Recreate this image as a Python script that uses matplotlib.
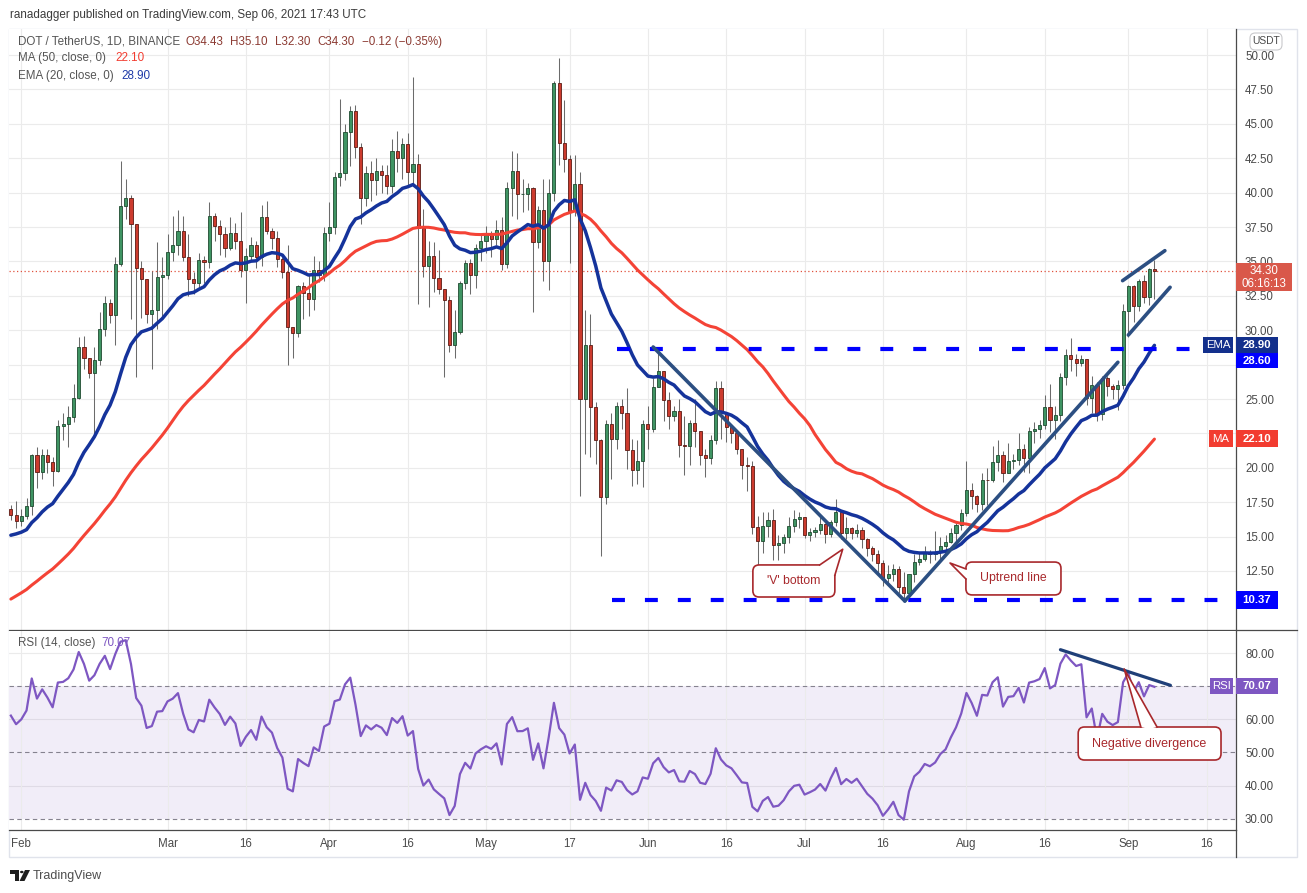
import numpy as np
import pandas as pd
import matplotlib
matplotlib.use("Agg")
import matplotlib.pyplot as plt
from matplotlib.patches import Rectangle, FancyBboxPatch, Polygon

plt.rcParams["font.family"] = ["Liberation Sans", "DejaVu Sans"]

W, H = 1307, 893

# daily closes Dec 11 2020 .. Jan 29 2021 (only feed the MA / EMA / RSI)
warmup_close = [
    4.62, 4.85, 5.10, 5.05, 5.00, 5.25, 5.55, 5.60, 5.70, 5.55,
    5.10, 5.00, 4.55, 4.90, 5.10, 5.45, 5.90, 6.55, 7.20, 8.10,
    9.20, 8.95, 9.25, 10.40, 9.70, 10.30, 10.50, 10.10, 10.45, 10.90,
    10.20, 9.30, 9.60, 10.90, 12.60, 14.80, 16.20, 17.40, 17.90, 17.20,
    17.60, 15.10, 16.30, 16.50, 17.60, 16.80, 16.90, 15.00, 16.20, 17.00,
]

# visible candles, Jan 30 .. Sep 6 2021 (open = previous close)
close = [
    16.6, 16.1, 16.5, 17.25, 20.9, 19.7, 20.9, 20.4, 19.8, 23.05,
    23.15, 23.7, 25.1, 28.75, 28.0, 26.9, 27.85, 30.1, 32.0, 31.1,
    34.8, 39.0, 39.6, 37.7, 34.5, 33.7, 31.2, 31.5, 33.9, 34.0,
    35.7, 36.2, 37.2, 35.3, 33.7, 33.4, 35.1, 34.95, 38.3, 37.6,
    37.0, 36.0, 37.1, 36.5, 34.35, 35.4, 36.2, 35.3, 38.2, 37.2,
    36.7, 35.2, 34.2, 30.2, 29.8, 33.2, 32.7, 32.3, 34.4, 34.0,
    37.1, 37.5, 41.1, 41.4, 44.4, 45.9, 43.3, 39.6, 41.4, 40.9,
    41.6, 41.3, 40.5, 43.0, 42.5, 43.5, 41.5, 42.1, 37.4, 34.7,
    35.4, 33.76, 32.96, 32.2, 28.96, 29.86, 33.4, 34.85, 34.0, 35.95,
    36.5, 36.9, 36.6, 37.25, 34.8, 40.36, 41.55, 39.88, 39.9, 40.3,
    36.43, 38.7, 35.0, 39.95, 47.96, 43.64, 42.43, 38.67, 40.6, 25.03,
    28.96, 24.4, 22.04, 17.86, 23.2, 22.1, 24.5, 23.97, 21.3, 19.85,
    20.46, 23.18, 22.84, 25.9, 27.0, 24.95, 23.74, 24.15, 21.67, 21.6,
    23.23, 22.64, 20.95, 20.7, 22.04, 25.8, 23.98, 23.0, 22.52, 21.4,
    20.2, 20.1, 15.68, 14.7, 15.8, 16.2, 14.4, 14.5, 15.0, 15.8,
    16.3, 16.4, 15.12, 15.3, 15.5, 15.9, 15.2, 16.05, 16.8, 15.24,
    15.6, 15.24, 15.5, 14.83, 14.15, 13.7, 13.06, 11.97, 12.28, 12.65,
    11.36, 10.87, 12.28, 13.13, 13.4, 13.85, 13.7, 13.9, 14.35, 14.6,
    15.25, 15.85, 16.75, 18.4, 17.96, 17.38, 19.13, 19.1, 20.4, 20.94,
    19.6, 20.5, 20.57, 21.36, 20.7, 22.7, 22.85, 23.1, 24.4, 23.5,
    23.85, 26.6, 28.2, 27.9, 27.65, 27.9, 25.1, 26.0, 23.9, 26.55,
    25.95, 25.7, 26.0, 31.4, 33.23, 31.77, 33.55, 32.4, 34.44, 34.30,
]
high = [
    17.3, 17.6, 17.0, 17.8, 21.0, 21.5, 21.4, 21.4, 20.8, 23.5,
    24.0, 24.5, 26.1, 29.5, 29.6, 28.0, 28.8, 31.3, 32.5, 32.3,
    35.3, 42.3, 41.0, 39.8, 37.7, 35.0, 33.3, 34.3, 36.4, 35.3,
    37.0, 38.3, 38.7, 38.3, 37.0, 34.2, 35.6, 35.4, 39.3, 38.5,
    38.0, 37.5, 38.2, 37.8, 38.6, 36.0, 36.8, 36.5, 39.1, 39.4,
    37.4, 37.2, 35.3, 36.2, 30.0, 33.3, 33.5, 34.0, 35.4, 35.0,
    37.5, 39.3, 41.5, 46.8, 45.0, 46.3, 46.4, 43.6, 41.9, 42.3,
    42.5, 42.0, 42.0, 43.9, 44.5, 44.0, 44.3, 48.4, 42.8, 38.8,
    36.5, 36.4, 35.8, 32.9, 32.5, 31.5, 33.6, 35.1, 35.2, 36.3,
    37.0, 37.6, 37.2, 38.0, 38.2, 40.8, 43.0, 42.9, 41.0, 40.7,
    40.4, 39.0, 41.0, 41.0, 48.1, 49.8, 46.7, 42.7, 42.7, 41.5,
    31.5, 31.2, 24.75, 22.1, 23.5, 24.0, 24.8, 25.0, 25.8, 22.1,
    22.0, 23.5, 24.5, 26.5, 28.6, 27.0, 25.5, 24.5, 25.0, 23.8,
    23.5, 25.0, 22.6, 21.4, 22.4, 26.3, 26.3, 24.0, 23.1, 22.5,
    21.4, 20.8, 20.5, 16.5, 16.8, 16.8, 17.0, 15.1, 15.2, 16.4,
    16.9, 16.8, 16.4, 15.6, 15.7, 16.5, 16.0, 16.2, 17.7, 16.9,
    16.4, 15.7, 15.9, 15.7, 14.9, 14.3, 14.0, 13.3, 12.9, 13.0,
    12.85, 12.4, 12.3, 13.7, 13.9, 14.3, 14.0, 15.4, 15.0, 15.1,
    15.6, 16.0, 17.0, 20.5, 18.9, 18.0, 19.6, 20.0, 21.6, 22.0,
    21.2, 21.8, 21.0, 22.5, 21.7, 23.0, 23.3, 23.5, 25.3, 26.1,
    24.5, 26.9, 28.6, 29.4, 28.3, 28.2, 27.9, 26.7, 26.2, 26.7,
    26.7, 26.1, 26.4, 31.9, 33.3, 33.3, 33.7, 34.0, 34.5, 35.1,
]
low = [
    16.2, 15.65, 15.8, 16.3, 16.6, 18.5, 19.2, 19.6, 18.7, 19.7,
    22.0, 21.5, 23.3, 25.0, 27.2, 26.5, 22.2, 27.5, 29.6, 30.5,
    28.9, 34.7, 38.1, 30.8, 26.6, 30.9, 30.5, 27.2, 30.1, 31.0,
    33.7, 35.0, 35.5, 35.0, 32.5, 32.6, 33.0, 33.4, 34.5, 36.5,
    35.5, 35.3, 35.8, 35.9, 33.85, 32.0, 35.1, 34.5, 34.7, 37.0,
    35.9, 34.6, 33.8, 27.5, 28.0, 29.5, 30.8, 31.0, 31.5, 33.5,
    33.6, 36.5, 37.0, 40.5, 40.9, 41.9, 42.5, 37.7, 39.0, 39.4,
    39.8, 40.0, 39.9, 40.0, 41.5, 41.0, 40.5, 40.5, 31.9, 33.9,
    31.7, 32.8, 32.6, 26.6, 28.4, 28.0, 29.7, 33.0, 32.6, 33.1,
    35.0, 35.6, 35.3, 36.2, 34.4, 34.5, 38.3, 38.1, 38.6, 38.7,
    31.3, 36.0, 33.6, 32.9, 39.4, 42.0, 41.5, 34.9, 38.3, 17.96,
    21.0, 20.8, 20.3, 13.6, 17.4, 19.2, 21.4, 22.8, 19.9, 18.7,
    18.8, 18.6, 21.4, 22.6, 26.3, 23.4, 22.8, 23.4, 20.8, 19.5,
    20.2, 21.5, 20.2, 19.3, 20.3, 21.7, 22.1, 21.9, 21.8, 21.0,
    19.2, 18.3, 15.2, 12.9, 13.8, 15.0, 13.3, 13.3, 13.8, 14.5,
    15.3, 15.6, 14.9, 14.7, 15.0, 15.2, 14.5, 15.0, 15.8, 14.8,
    14.8, 14.8, 15.0, 14.2, 13.6, 13.2, 12.2, 11.4, 11.5, 11.8,
    10.9, 10.37, 10.4, 11.7, 12.9, 13.2, 13.1, 13.3, 13.2, 14.0,
    14.5, 14.7, 15.5, 16.5, 17.0, 16.8, 16.9, 17.3, 19.0, 19.8,
    19.0, 19.8, 19.9, 20.2, 19.7, 19.6, 21.8, 22.2, 22.8, 22.6,
    22.1, 23.4, 26.0, 27.0, 26.7, 27.4, 24.6, 24.0, 23.4, 23.5,
    25.2, 25.0, 24.2, 25.7, 29.5, 30.6, 31.4, 32.0, 31.8, 32.3,
]

date_tick_pos = [2, 30, 45, 61, 76, 91, 107, 122, 137, 152, 167, 183, 198, 214, 229]
date_tick_labels = ["Feb", "Mar", "16", "Apr", "16", "May", "17", "Jun", "16",
                    "Jul", "16", "Aug", "16", "Sep", "16"]
price_ticks = [12.5, 15.0, 17.5, 20.0, 22.5, 25.0, 27.5, 30.0, 32.5, 35.0,
               37.5, 40.0, 42.5, 45.0, 47.5, 50.0]
price_labels_hidden = [22.5, 27.5]   # covered by the MA / 28.60 price tags
rsi_tick_vals = [30, 40, 50, 60, 80]
rsi_solid = [40, 60, 80]
rsi_dashed = [30, 50, 70]
breakout_level = 28.60
support_level = 10.37

GRID = "#ebebeb"
AXC = "#4a4a4a"
NOTE = "#a8282c"

# ---- indicators -------------------------------------------------------
full = pd.Series(warmup_close + close)
n = len(close)
ma50 = full.rolling(50).mean().to_numpy()[-n:]
ema20 = full.ewm(span=20, adjust=False).mean().to_numpy()[-n:]
d = full.diff()
up = d.clip(lower=0).ewm(alpha=1 / 14, adjust=False).mean()
dn = (-d.clip(upper=0)).ewm(alpha=1 / 14, adjust=False).mean()
rsi = (100 - 100 / (1 + up / dn)).to_numpy()[-n:]

c = np.array(close)
o = np.r_[warmup_close[-1], c[:-1]]
hi = np.maximum(np.array(high), np.maximum(o, c))
lo = np.minimum(np.array(low), np.minimum(o, c))
x = np.arange(n)

fig = plt.figure(figsize=(W / 100, H / 100), dpi=100)


def fx(px):
    return px / W


def fy(py):
    return 1 - py / H


ax = fig.add_axes([fx(9), fy(630), fx(1236) - fx(9), fy(29) - fy(630)])
axr = fig.add_axes([fx(9), fy(830), fx(1236) - fx(9), fy(631) - fy(830)])
XL = (-0.356, 234.62)

# ---- price panel --------------------------------------------------------
ax.set_xlim(*XL)
ax.set_ylim(8.212, 51.89)
ax.set_xticks(date_tick_pos)
ax.set_yticks(price_ticks, ["" if v in price_labels_hidden else f"{v:.2f}"
                            for v in price_ticks])
ax.yaxis.tick_right()
ax.tick_params(axis="x", length=0, labelbottom=False)
ax.tick_params(axis="y", length=0, pad=6.5, labelsize=8.3, labelcolor=AXC)
ax.grid(True, color=GRID, lw=0.8)
ax.set_axisbelow(True)
for s in ("top", "left"):
    ax.spines[s].set_visible(False)
for s in ("right", "bottom"):
    ax.spines[s].set_color(AXC)
    ax.spines[s].set_linewidth(0.9)

rising = c >= o
ax.vlines(x, lo, hi, color="#6b6b6b", lw=0.75, zorder=2)
ax.bar(x[rising], (c - o)[rising], bottom=o[rising], width=0.6,
       color="#3f9463", edgecolor="#1f4a30", lw=0.6, zorder=3)
ax.bar(x[~rising], (c - o)[~rising], bottom=o[~rising], width=0.6,
       color="#cc3b2e", edgecolor="#5c1a13", lw=0.6, zorder=3)

ax.plot(x, ma50, color="#f44336", lw=2.2, zorder=4, solid_capstyle="round")
ax.plot(x, ema20, color="#15339b", lw=2.5, zorder=4, solid_capstyle="round")
ax.axhline(c[-1], color="#e0533f", lw=0.9, ls=(0, (1, 2)), zorder=1)

# horizontal levels
ax.plot([116.1, 226.2], [breakout_level, breakout_level], color="#0000ff",
        lw=3, dashes=(3.1, 4.8), dash_capstyle="butt", zorder=5)
ax.plot([115.1, XL[1]], [support_level, support_level], color="#0000ff",
        lw=3, dashes=(3.1, 4.8), dash_capstyle="butt", zorder=5)

# drawn trend lines
TL = "#2c4f82"
for xs, ys in (([123.0, 171.2], [28.78, 10.32]),
               ([171.2, 212.0], [10.32, 27.67]),
               ([212.9, 221.0], [33.6, 35.78]),
               ([214.0, 222.0], [29.65, 33.12])):
    ax.plot(xs, ys, color=TL, lw=2.6, solid_capstyle="round", zorder=6)


def callout(a, x0, x1, y0, y1, tip, base, text, aspect, fs):
    a.add_patch(FancyBboxPatch((x0, y0), x1 - x0, y1 - y0,
                               boxstyle="round,pad=0,rounding_size=1.2",
                               mutation_aspect=aspect, facecolor="white",
                               edgecolor=NOTE, lw=1.2, zorder=8))
    cx, cy = (x0 + x1) / 2, (y0 + y1) / 2
    mx, my = (base[0][0] + base[1][0]) / 2, (base[0][1] + base[1][1]) / 2
    inner = (mx + 0.12 * (cx - mx), my + 0.12 * (cy - my))
    a.add_patch(Polygon([base[0], tip, base[1], inner], closed=True,
                        facecolor="white", edgecolor="none", zorder=9))
    a.plot([base[0][0], tip[0], base[1][0]], [base[0][1], tip[1], base[1][1]],
           color=NOTE, lw=1.2, zorder=10)
    a.text(cx, cy, text, color=NOTE, fontsize=fs, ha="center",
           va="center", zorder=11)


callout(ax, 142.1, 157.8, 10.61, 12.94, (159.3, 14.08),
        ((154.9, 12.94), (157.8, 12.2)), "'V' bottom", 0.3795, 8.8)
callout(ax, 182.9, 201.1, 10.76, 13.15, (179.86, 13.08),
        ((182.9, 12.65), (182.9, 11.92)), "Uptrend line", 0.3795, 8.8)

# ---- RSI panel ----------------------------------------------------------
axr.set_xlim(*XL)
axr.set_ylim(26.59, 86.64)
axr.set_xticks(date_tick_pos, date_tick_labels)
axr.set_yticks(rsi_tick_vals, [f"{v:.2f}" for v in rsi_tick_vals])
axr.yaxis.tick_right()
axr.tick_params(axis="x", length=0, pad=6, labelsize=8.3, labelcolor=AXC)
axr.tick_params(axis="y", length=0, pad=6.5, labelsize=8.3, labelcolor=AXC)
axr.xaxis.grid(True, color=GRID, lw=0.8)
axr.set_axisbelow(True)
for s in ("top", "left"):
    axr.spines[s].set_visible(False)
for s in ("right", "bottom"):
    axr.spines[s].set_color(AXC)
    axr.spines[s].set_linewidth(0.9)
for v in rsi_solid:
    axr.axhline(v, color=GRID, lw=0.8, zorder=0)
axr.axhspan(30, 70, color="#7e57c2", alpha=0.1, lw=0, zorder=0)
for v in rsi_dashed:
    axr.axhline(v, color="#85828f", lw=0.8, ls=(0, (4, 3)), zorder=1)
axr.plot(x, rsi, color="#7e57c2", lw=1.6, zorder=3)
axr.plot([201.0, 222.06], [81.0, 70.25], color="#1f3f78", lw=2.3,
         solid_capstyle="round", zorder=4)
callout(axr, 204.4, 231.75, 47.71, 57.67, (213.2, 75.2),
        ((216.4, 57.67), (219.5, 57.67)), "Negative divergence", 1.576, 9)

# ---- frame, tags, header texts --------------------------------------------
fig.add_artist(Rectangle((fx(9), fy(857)), fx(1297) - fx(9), fy(29) - fy(857),
                         transform=fig.transFigure, fill=False,
                         edgecolor="#e0e3eb", lw=1, zorder=0))
fig.add_artist(plt.Line2D([fx(1236), fx(1297)], [fy(630), fy(630)],
                          transform=fig.transFigure, color=AXC, lw=0.9))
fig.add_artist(plt.Line2D([fx(1236), fx(1236)], [fy(830), fy(857)],
                          transform=fig.transFigure, color=AXC, lw=0.9))


def tag(x0, y0, x1, y1, color, text, size=8.2, weight="bold"):
    fig.add_artist(Rectangle((fx(x0), fy(y1)), fx(x1) - fx(x0), fy(y0) - fy(y1),
                             transform=fig.transFigure, facecolor=color,
                             edgecolor="none", zorder=20))
    fig.text(fx((x0 + x1) / 2), fy((y0 + y1) / 2), text, color="white",
             fontsize=size, fontweight=weight, ha="center", va="center",
             zorder=21)


fig.add_artist(Rectangle((fx(1236), fy(291)), fx(1292) - fx(1236), fy(263) - fy(291),
                         transform=fig.transFigure, facecolor="#d9584a",
                         edgecolor="none", zorder=20))
fig.text(fx(1264), fy(271), "34.30", color="white", fontsize=8.3,
         ha="center", va="center", zorder=21)
fig.text(fx(1264), fy(284), "06:16:13", color="white", fontsize=8.3,
         ha="center", va="center", zorder=21)
tag(1203, 337, 1233, 353, "#13308c", "EMA", weight="normal")
tag(1236, 337, 1278, 353, "#13308c", "28.90")
tag(1236, 353, 1278, 368, "#0000ff", "28.60")
tag(1209, 430, 1233, 447, "#f23c30", "MA", weight="normal")
tag(1236, 430, 1278, 447, "#f23c30", "22.10")
tag(1236, 591, 1278, 609, "#0000ff", "10.37")
tag(1210, 678, 1233, 694, "#7e57c2", "RSI", weight="normal")
tag(1236, 678, 1278, 694, "#7e57c2", "70.07")

fig.add_artist(FancyBboxPatch((fx(1250), fy(50)), fx(1282) - fx(1250), fy(33) - fy(50),
                              boxstyle="round,pad=0,rounding_size=0.004",
                              mutation_aspect=W / H, transform=fig.transFigure,
                              facecolor="white", edgecolor="#c9c9cc", lw=0.8,
                              zorder=20))
fig.text(fx(1266), fy(41.5), "USDT", color=AXC, fontsize=7.4, ha="center",
         va="center", zorder=21)

fig.text(fx(10), fy(15), "ranadagger published on TradingView.com, Sep 06, 2021 17:43 UTC",
         color="#3c3c3c", fontsize=8.4, va="center")
HDR = "#8c3b33"
fig.text(fx(18), fy(42), "DOT / TetherUS, 1D, BINANCE", color="#555555",
         fontsize=8.4, va="center")
for px_, s_ in ((185, "O34.43"), (230, "H35.10"), (275, "L32.30"),
                (317, "C34.30"), (362, "\u22120.12 (\u22120.35%)")):
    fig.text(fx(px_), fy(42), s_, color=HDR, fontsize=8.4, va="center")
fig.text(fx(18), fy(58), "MA (50, close, 0)", color="#555555", fontsize=8.4,
         va="center")
fig.text(fx(115.5), fy(58), "22.10", color="#f23c30", fontsize=8.4, va="center")
fig.text(fx(18), fy(76), "EMA (20, close, 0)", color="#555555", fontsize=8.4,
         va="center")
fig.text(fx(121.5), fy(76), "28.90", color="#1e3aa8", fontsize=8.4, va="center")
fig.text(fx(18), fy(643), "RSI (14, close)", color="#555555", fontsize=8.4,
         va="center")
fig.text(fx(101.5), fy(643), "70.07", color="#7e57c2", fontsize=8.4, va="center")

# TradingView logo
logo = "#1e1e1e"
fig.add_artist(Polygon([(fx(10), fy(870)), (fx(19), fy(870)), (fx(19), fy(881)),
                        (fx(15), fy(881)), (fx(15), fy(873.5)), (fx(10), fy(873.5))],
                       closed=True, transform=fig.transFigure, facecolor=logo,
                       edgecolor="none"))
fig.add_artist(plt.Circle((fx(21.8), fy(872)), 1.8 / W, transform=fig.transFigure,
                          facecolor=logo, edgecolor="none"))
fig.add_artist(Polygon([(fx(25), fy(870)), (fx(30), fy(870)), (fx(24.5), fy(881)),
                        (fx(19.5), fy(881))], closed=True, transform=fig.transFigure,
                       facecolor=logo, edgecolor="none"))
fig.text(fx(33), fy(876), "TradingView", color="#4d4d4d", fontsize=9, va="center")

fig.savefig("out.png", dpi=100, facecolor="white")
